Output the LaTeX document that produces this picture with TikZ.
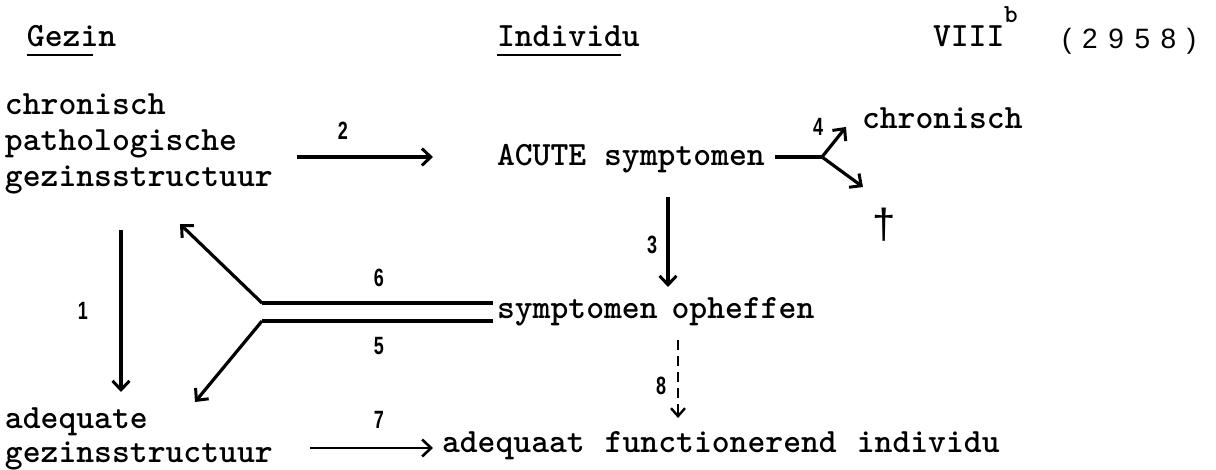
\documentclass[tikz,border=0pt]{standalone}
\usepackage{fontspec}
\newfontfamily\typew{lmmonolt10-bold.otf}
\newfontfamily\numf[FakeStretch=0.72]{Liberation Sans}
\newfontfamily\yrf{Liberation Sans}
\usetikzlibrary{arrows.meta}
\begin{document}
\begin{tikzpicture}[x=1pt,y=-1pt,
  txt/.style={font=\typew\fontsize{34}{38}\selectfont, inner sep=0pt, outer sep=0pt, anchor=base west},
  num/.style={font=\numf\bfseries\fontsize{25}{28}\selectfont, inner sep=0pt, anchor=base},
  arr/.style={line width=3.2pt, -{Straight Barb[length=9pt,width=17pt,line width=3pt]}},
  ln/.style={line width=3.2pt},
  ul/.style={line width=2.4pt},
  ]
\useasboundingbox (0,0) rectangle (1216,469);
% headers
\node[txt] (gezin) at (27,46) {Gezin};
\node[txt] (indiv) at (497,46) {Individu};
\node[txt] (viii) at (933,46) {VIII};
\node[font=\typew\fontsize{26}{30}\selectfont, inner sep=0pt, anchor=base west] (supb) at (1004,22) {b};
\node[font=\yrf\fontsize{28}{30}\selectfont, inner sep=0pt, anchor=base west] (yr) at (1062,48) {\makebox[134pt][s]{(\hfil2\hfil9\hfil5\hfil8\hfil)}};
\draw[ul] (gezin.base west) ++(0,9) -- ++(66,0);
\draw[ul] (indiv.base west) ++(0,9) -- ++(124,0);
% left column
\node[txt] (chr1) at (5,114) {chronisch};
\node[txt] (chr2) at (5,150) {pathologische};
\node[txt] (chr3) at (5,186) {gezinsstructuur};
\node[txt] (adq1) at (5,428) {adequate};
\node[txt] (adq2) at (5,462) {gezinsstructuur};
% middle column
\node[txt] (acute) at (497,165) {ACUTE symptomen};
\node[txt] (oph) at (497,318) {symptomen\hspace{14pt}opheffen};
\node[txt] (func) at (442,452) {adequaat\hspace{20pt}functionerend\hspace{20pt}individu};
% right
\node[txt] (chrR) at (862,128) {chronisch};
\node[font=\yrf\fontsize{42}{44}\selectfont, inner sep=0pt, anchor=base] (dag) at (884,238) {†};
% coordinates for arrows
\coordinate (a2s) at (297,157);
\coordinate (a2e) at (433,157);
\coordinate (a1s) at (121,230);
\coordinate (a1e) at (121,392);
\coordinate (a3s) at (668,197);
\coordinate (a3e) at (668,287);
\coordinate (a4s) at (775,157);
\coordinate (a4j) at (822,157);
\coordinate (a4u) at (846,127);
\coordinate (a4d) at (863,187);
\coordinate (dTop) at (262,303);
\coordinate (dTopE) at (493,303);
\coordinate (dBot) at (262,321);
\coordinate (dBotE) at (493,321);
\coordinate (a6e) at (180,224);
\coordinate (a5e) at (195,402);
\coordinate (a7s) at (310,448);
\coordinate (a7e) at (433,448);
\coordinate (a8s) at (678,340);
\coordinate (a8e) at (678,418);
% arrows
\draw[arr] (a2s) -- (a2e);
\draw[arr] (a1s) -- (a1e);
\draw[arr] (a3s) -- (a3e);
\draw[ln] (a4s) -- (a4j);
\draw[arr] (a4j) -- (a4u);
\draw[arr] (a4j) -- (a4d);
\draw[ln] (dTopE) -- (dTop);
\draw[arr] (dTop) -- (a6e);
\draw[ln] (dBotE) -- (dBot);
\draw[arr] (dBot) -- (a5e);
\draw[line width=2.8pt, -{Straight Barb[length=9pt,width=17pt,line width=2.6pt]}] (a7s) -- (a7e);
\draw[line width=2.6pt, dash pattern=on 10pt off 6pt, -{Straight Barb[length=8pt,width=14pt,line width=2.4pt]}] (a8s) -- (a8e);
% labels
\node[num] (n2) at (343,139) {2};
\node[num] (n1) at (83,319) {1};
\node[num] (n3) at (652,253) {3};
\node[num] (n4) at (818,135) {4};
\node[num] (n6) at (379,286) {6};
\node[num] (n5) at (379,354) {5};
\node[num] (n7) at (379,428) {7};
\node[num] (n8) at (661,394) {8};
\end{tikzpicture}
\end{document}
